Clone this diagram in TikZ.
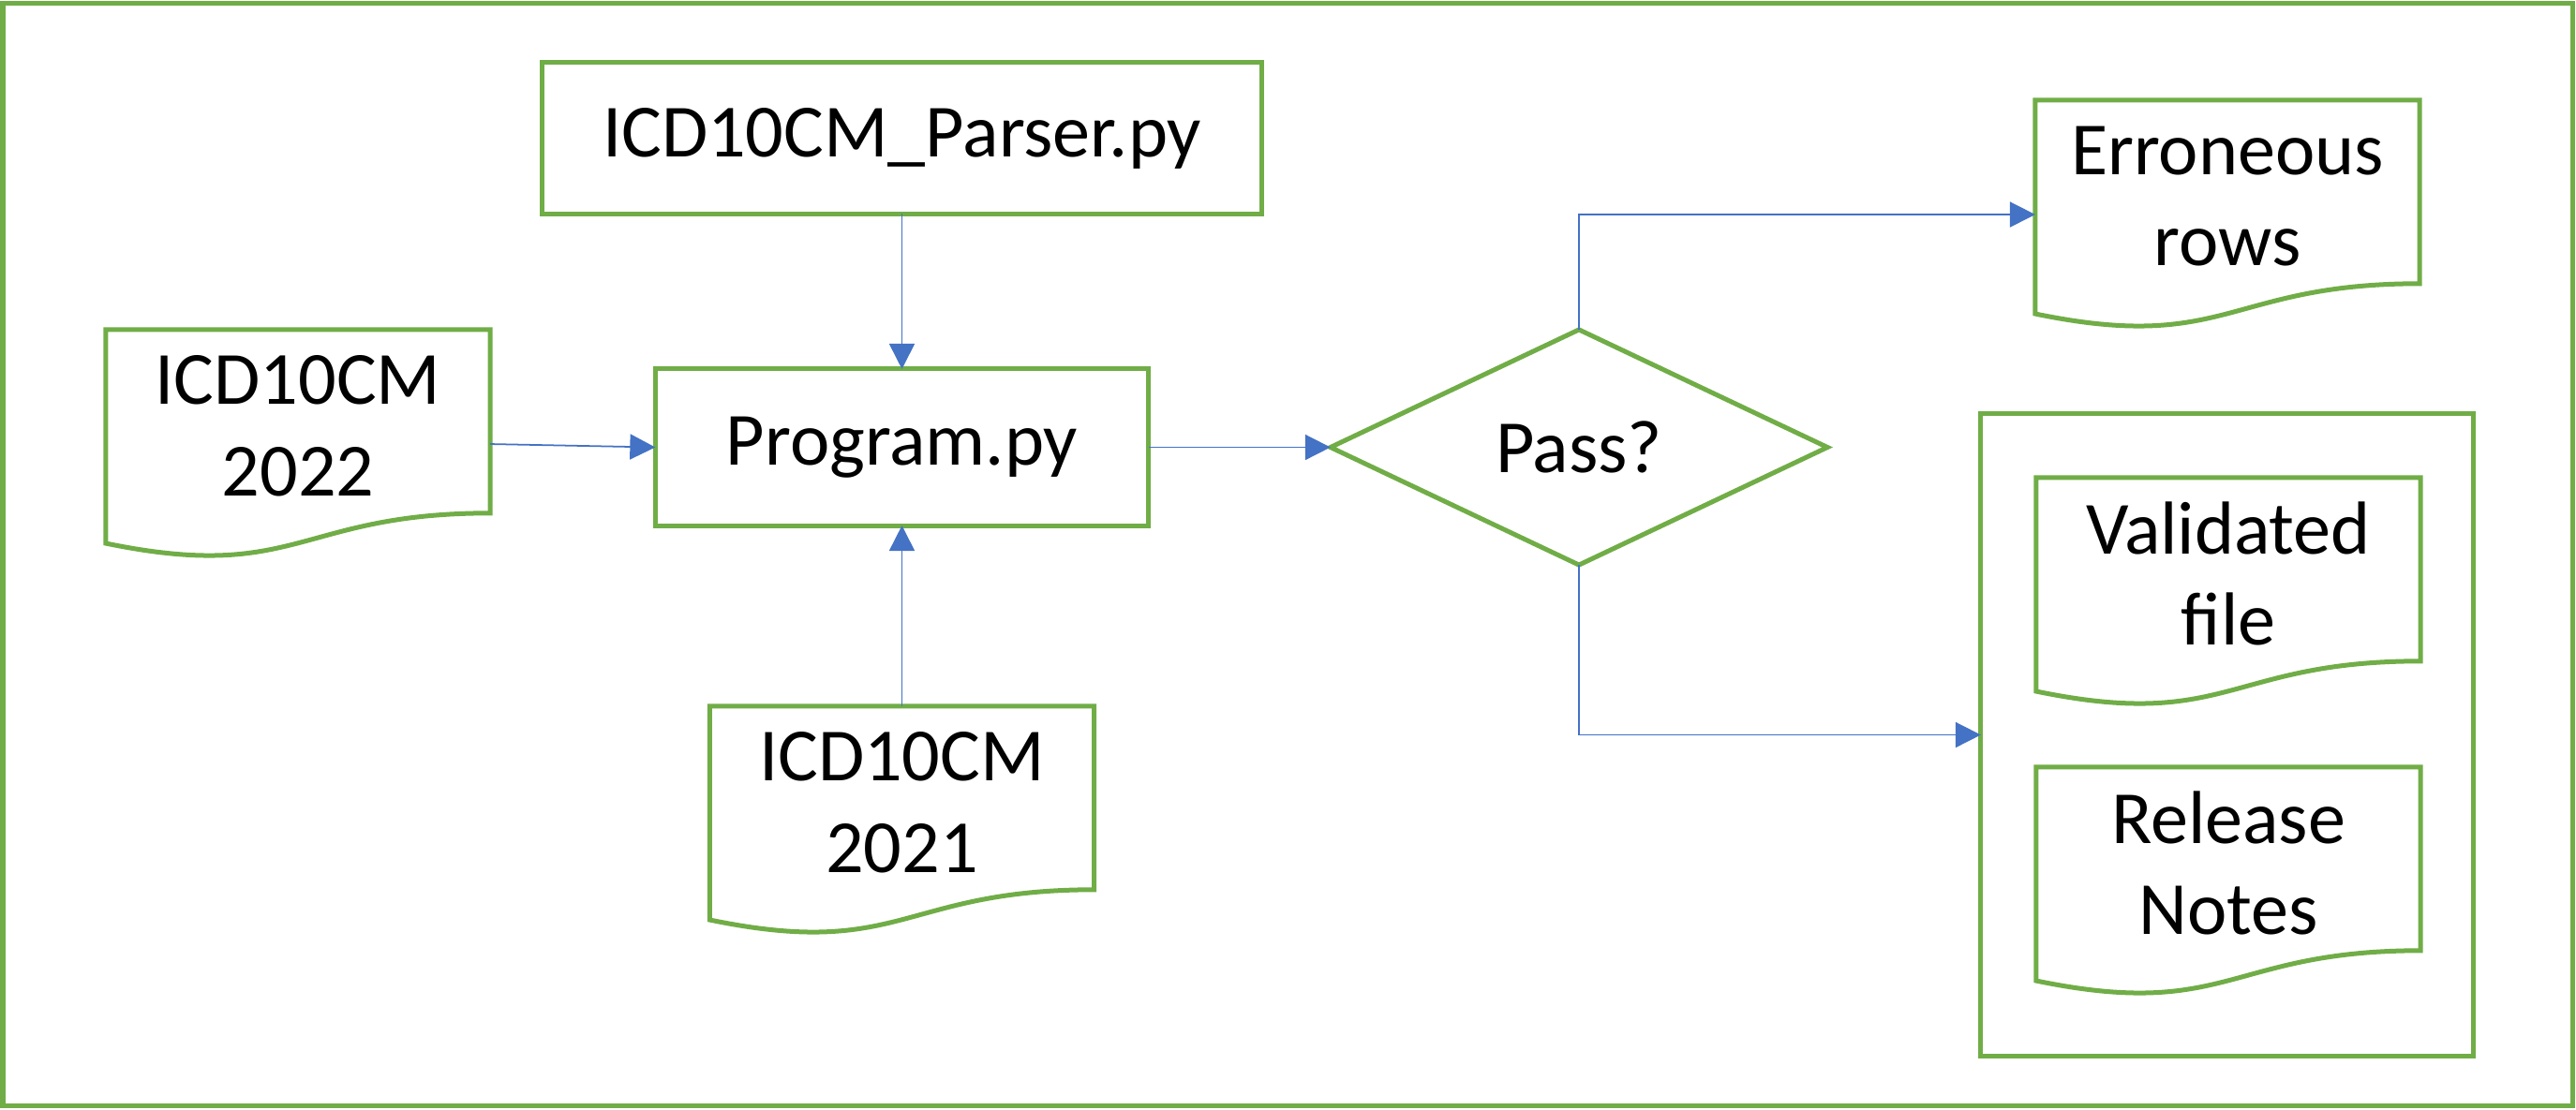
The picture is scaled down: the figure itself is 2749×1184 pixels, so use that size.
\documentclass[tikz,border=0pt]{standalone}
\usepackage{fontspec}
\setmainfont{Carlito}
\usetikzlibrary{calc,arrows.meta,shapes.geometric}
\definecolor{ogreen}{HTML}{70AD47}
\definecolor{oblue}{HTML}{4472C4}
\tikzset{
  lbl/.style={font=\fontsize{22.8}{27.8}\selectfont, align=center, text=black},
  greenline/.style={draw=ogreen, line width=0.05cm, line join=miter},
  procbox/.style={lbl, greenline, rectangle, inner sep=0pt, outer sep=0pt},
  docnode/.style={lbl, rectangle, inner sep=0pt, outer sep=0pt, minimum width=4.10cm, minimum height=2.05cm},
  decision/.style={lbl, greenline, diamond, inner sep=0pt, outer sep=0pt, minimum width=5.30cm, minimum height=2.51cm},
  conn/.style={draw=oblue, line width=0.5pt, -{Triangle[length=0.27cm,width=0.27cm]}},
}
\newcommand\docoutline[1]{%
  \draw[greenline] (#1.north west) -- (#1.north east)
    -- ($(#1.north east)!0.9548!(#1.south east)$)
    .. controls ($(#1.north)!0.9548!(#1.south)$) and ($(#1.north)!1.3185!(#1.south)$)
    .. ($(#1.north west)!1.1119!(#1.south west)$) -- cycle;}
\begin{document}
\begin{tikzpicture}[x=0.01cm,y=-0.01cm]
\useasboundingbox (0,0) rectangle (2749,1184);
\draw[greenline] (3,3) rectangle (2745,1180);

\node[procbox, minimum width=7.67cm, minimum height=1.61cm] (parser) at (962.5,147.5) {ICD10CM\_Parser.py};
\node[procbox, minimum width=5.26cm, minimum height=1.67cm] (prog) at (962.5,477.5) {Program.py};
\node[decision] (dec) at (1685,477.5) {Pass?};
\node[procbox, minimum width=5.25cm, minimum height=6.85cm] (cont) at (2376.5,784.5) {};

\node[docnode] (d22) at (318,454.5) {ICD10CM\\2022};
\node[docnode] (d21) at (962.5,856.5) {ICD10CM\\2021};
\node[docnode] (err) at (2377,209.5) {Erroneous\\rows};
\node[docnode] (val) at (2378,612.5) {Validated\\file};
\node[docnode] (rel) at (2378,921.5) {Release\\Notes};
\docoutline{d22}
\docoutline{d21}
\docoutline{err}
\docoutline{val}
\docoutline{rel}

\coordinate (d22out) at ($(d22.north east)!0.5952!(d22.south east)$);
\coordinate (errin) at ($(err.north west)!0.5952!(err.south west)$);

\draw[conn] (parser.south) -- (prog.north);
\draw[conn] (d22out) -- (prog.west);
\draw[conn] (d21.north) -- (prog.south);
\draw[conn] (prog.east) -- (dec.west);
\draw[conn] (dec.north) |- (errin);
\draw[conn] (dec.south) |- (cont.west);
\end{tikzpicture}
\end{document}
